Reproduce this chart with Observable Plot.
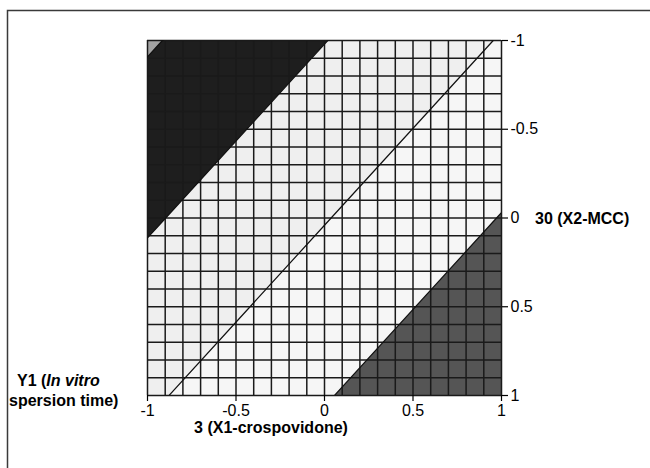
<!DOCTYPE html>
<html><head><meta charset="utf-8">
<script src="https://cdn.jsdelivr.net/npm/d3@7"></script>
<script src="https://cdn.jsdelivr.net/npm/@observablehq/plot@0.6"></script>
<style>body{margin:0;background:#fff}</style>
</head><body><div id="chart"></div>
<script>
// Coded factor levels (design points) and Y1 response read at each point
const x1Levels = [-1, 0, 1];          // X1 crospovidone (coded)
const x2Levels = [-1, 0, 1];          // X2 MCC (coded)
const y1Rows = [                      // one row per X2 level, values across X1 levels
  [9.1, 19.8, 30.5],
  [18.9, 29.6, 40.3],
  [28.7, 39.4, 50.1]
];
const bandThresholds = [0, 10, 20, 30, 40];
const bandColors = ["#a3a3a3", "#1e1e1e", "#efefef", "#f6f6f6", "#555555"];
const xTicks = [-1, -0.5, 0, 0.5, 1];
const yTicks = [-1, -0.5, 0, 0.5, 1];
const gridDivisions = 20;

const values = y1Rows.flat();
const hx = (x1Levels[1] - x1Levels[0]) / 2;
const hy = (x2Levels[1] - x2Levels[0]) / 2;
const grid = {
  width: x1Levels.length, height: x2Levels.length,
  x1: x1Levels[0] - hx, x2: x1Levels[x1Levels.length - 1] + hx,
  y1: x2Levels[0] - hy, y2: x2Levels[x2Levels.length - 1] + hy,
  value: Plot.identity, clip: true
};
const fmt = d => String(d);

const svg = Plot.plot({
  width: 650, height: 468,
  marginLeft: 147, marginRight: 149, marginTop: 40, marginBottom: 73,
  style: {fontFamily: "'Liberation Sans', Arial, sans-serif", fontSize: "16px", color: "#000", background: "#fff"},
  x: {domain: [-1, 1]},
  y: {domain: [-1, 1], reverse: true},
  color: {type: "threshold", domain: bandThresholds.slice(1), range: bandColors},
  marks: [
    Plot.contour(values, {...grid, thresholds: bandThresholds, fill: "value", stroke: "none"}),
    Plot.gridX({ticks: gridDivisions, stroke: "#1a1a1a", strokeOpacity: 1, strokeWidth: 1.5}),
    Plot.gridY({ticks: gridDivisions, stroke: "#1a1a1a", strokeOpacity: 1, strokeWidth: 1.5}),
    Plot.contour(values, {...grid, thresholds: bandThresholds.slice(1), fill: "none", stroke: "#111", strokeWidth: 1.2}),
    Plot.axisX(xTicks, {tickSize: 6, tickPadding: 3, tickFormat: fmt, label: null, strokeWidth: 1.2}),
    Plot.axisY(yTicks, {anchor: "right", tickSize: 6, tickPadding: 3, tickFormat: fmt, label: null, strokeWidth: 1.2})
  ]
});

const s = d3.select(svg);
s.append("path").attr("d", "M7.5,470V10.5H652").attr("fill", "none").attr("stroke", "#3a3a3a").attr("stroke-width", 1.5);
const tf = "'Liberation Sans', Arial, sans-serif";
function label(x, y, anchor) {
  return s.append("text").attr("x", x).attr("y", y).attr("text-anchor", anchor)
    .attr("font-family", tf).attr("font-size", 16).attr("font-weight", "bold").attr("fill", "#000");
}
label(535, 224, "start").text("30 (X2-MCC)");
label(271, 433, "middle").text("3 (X1-crospovidone)");
const t1 = label(17, 386, "start");
t1.append("tspan").text("Y1 (");
t1.append("tspan").attr("font-style", "italic").text("In vitro");
label(9, 406, "start").text("spersion time)");

document.getElementById("chart").appendChild(svg);
</script>
</body></html>
